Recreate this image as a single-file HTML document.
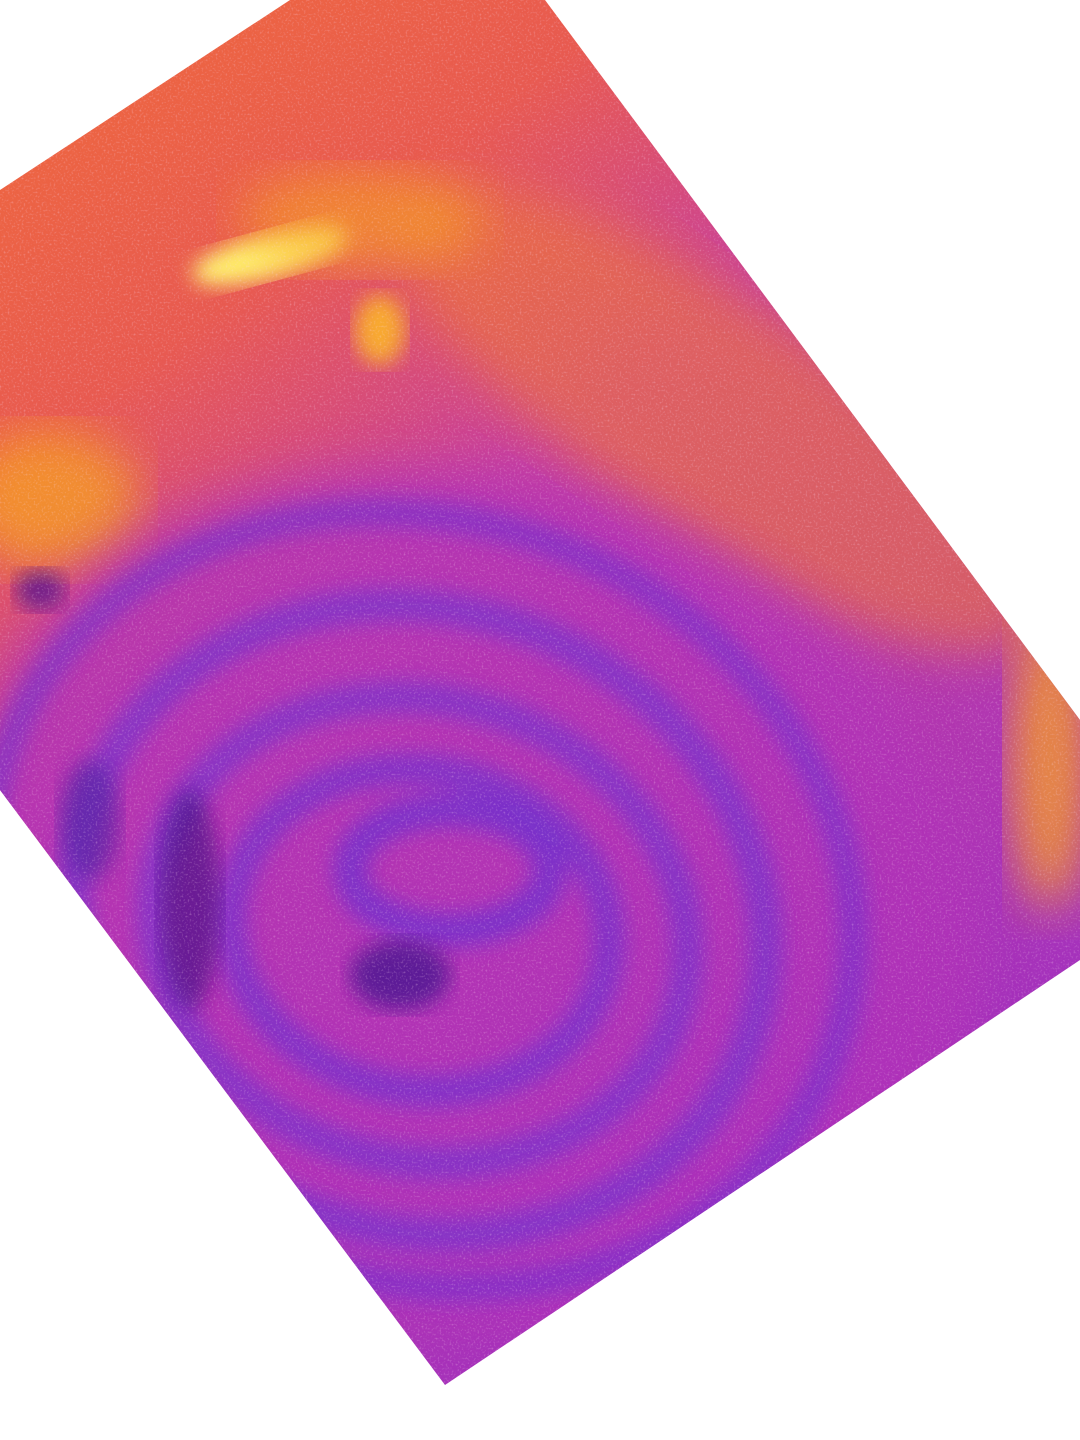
<!DOCTYPE html>
<html><head><meta charset="utf-8"><style>
html,body{margin:0;padding:0;background:#fff;width:1080px;height:1440px;overflow:hidden}
</style></head><body>
<svg width="1080" height="1440" viewBox="0 0 1080 1440" xmlns="http://www.w3.org/2000/svg">
<defs>
<clipPath id="c"><polygon points="0,190 290,0 545,0 1080,720 1080,960 445,1385 0,790"/></clipPath>
<linearGradient id="bg" x1="0" y1="0" x2="0.55" y2="1">
<stop offset="0" stop-color="#f06a3a"/>
<stop offset="0.25" stop-color="#e85a50"/>
<stop offset="0.45" stop-color="#c8409c"/>
<stop offset="1" stop-color="#a030c0"/>
</linearGradient>
<filter id="b8"><feGaussianBlur stdDeviation="10"/></filter>
<filter id="b20"><feGaussianBlur stdDeviation="24"/></filter>
<filter id="noise" x="0" y="0" width="100%" height="100%"><feTurbulence type="fractalNoise" baseFrequency="0.5" numOctaves="2" seed="3" result="t"/><feColorMatrix in="t" type="matrix" values="0 0 0 0 1  0 0 0 0 0.7  0 0 0 0 0.9  0 0 0 3 -1.6"/></filter>
</defs>
<g clip-path="url(#c)">
<rect width="1080" height="1440" fill="url(#bg)"/>
<ellipse cx="720" cy="420" rx="380" ry="120" transform="rotate(34 720 420)" fill="#f07a30" opacity="0.55" filter="url(#b20)"/>
<ellipse cx="50" cy="500" rx="90" ry="70" fill="#f7a020" opacity="0.75" filter="url(#b20)"/>
<ellipse cx="1050" cy="760" rx="40" ry="150" fill="#f8a020" opacity="0.8" filter="url(#b20)"/>
<ellipse cx="270" cy="255" rx="80" ry="22" transform="rotate(-15 270 255)" fill="#fff070" filter="url(#b8)"/>
<ellipse cx="360" cy="220" rx="120" ry="50" fill="#f7a020" opacity="0.6" filter="url(#b20)"/>
<ellipse cx="380" cy="330" rx="25" ry="35" fill="#ffc020" opacity="0.8" filter="url(#b8)"/>
<ellipse cx="470" cy="900" rx="520" ry="420" transform="rotate(20 470 900)" fill="#b030b8" opacity="0.75" filter="url(#b20)"/>
<g fill="none" stroke="#6a30d0" filter="url(#b8)">
<ellipse cx="420" cy="900" rx="440" ry="380" transform="rotate(20 420 900)" stroke-width="30" opacity="0.55"/>
<ellipse cx="420" cy="920" rx="350" ry="310" transform="rotate(20 420 920)" stroke-width="34" opacity="0.6"/>
<ellipse cx="420" cy="930" rx="270" ry="230" transform="rotate(15 420 930)" stroke-width="32" opacity="0.6"/>
<ellipse cx="420" cy="930" rx="190" ry="160" transform="rotate(10 420 930)" stroke-width="32" opacity="0.65"/>
<ellipse cx="450" cy="870" rx="100" ry="60" stroke-width="34" opacity="0.7"/>
</g>
<ellipse cx="400" cy="975" rx="50" ry="35" fill="#4a1890" opacity="0.8" filter="url(#b8)"/>
<ellipse cx="190" cy="900" rx="30" ry="110" fill="#3a1080" opacity="0.6" filter="url(#b8)"/>
<ellipse cx="90" cy="820" rx="30" ry="60" fill="#5020a0" opacity="0.6" filter="url(#b8)"/>
<ellipse cx="40" cy="590" rx="25" ry="20" fill="#4a1090" opacity="0.7" filter="url(#b8)"/>
<rect width="1080" height="1440" filter="url(#noise)" opacity="0.3"/>
</g>
</svg>
</body></html>
